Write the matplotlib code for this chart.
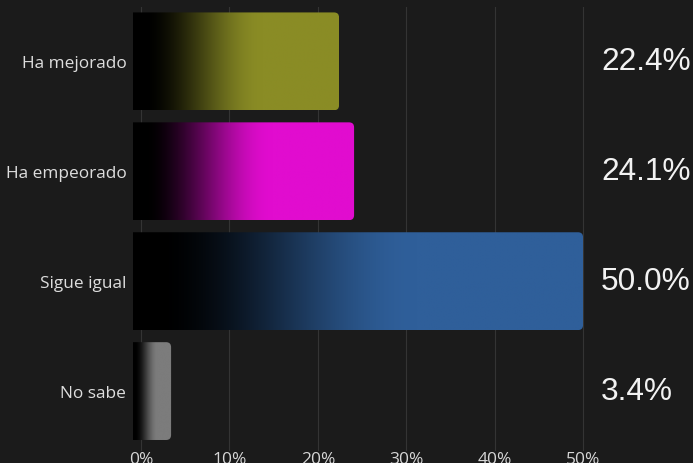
import matplotlib
matplotlib.use("Agg")
import matplotlib.pyplot as plt
import numpy as np
from matplotlib.colors import to_rgb
from matplotlib.patches import FancyBboxPatch
from matplotlib.transforms import blended_transform_factory

categories = ["Ha mejorado", "Ha empeorado", "Sigue igual", "No sabe"]
values = [22.4, 24.1, 50.0, 3.4]
colors = ["#8a8c25", "#e10ccf", "#2f5f9a", "#7c7c7c"]
ticks = [0, 10, 20, 30, 40, 50]
tick_labels = ["0%", "10%", "20%", "30%", "40%", "50%"]

BG = "#1b1b1b"
fig = plt.figure(figsize=(6.93, 4.64), dpi=100, facecolor=BG)
ax = fig.add_axes([0.1882, 0.0259, 0.6595, 0.957], facecolor=BG)
ax.set_xlim(-1.2, 50.5)
ax.set_ylim(3.545, -0.495)

# px per data unit, used to keep the corner radius round
px_x = 457.0 / 51.7
px_y = 444.0 / 4.04
r_px = 5.0
rx = r_px / px_x
aspect = (r_px / px_y) / rx

h = 0.89
start = -0.9
t = np.linspace(0, 1, 256)
for i, (v, c) in enumerate(zip(values, colors)):
    s = np.clip((t - 0.05) / 0.58, 0, 1)
    s = s * s * (3 - 2 * s)
    rgb = np.array(to_rgb(c))
    grad = (s[:, None] * rgb[None, :])[None, :, :]
    im = ax.imshow(grad, extent=(start, v, i + h / 2, i - h / 2),
                   aspect="auto", interpolation="bilinear", zorder=3)
    clip = FancyBboxPatch((start - 3, i - h / 2), v - start + 3, h,
                          boxstyle=f"round,pad=0,rounding_size={rx}",
                          mutation_aspect=aspect, transform=ax.transData)
    im.set_clip_path(clip)

ax.set_xlim(-1.2, 50.5)
ax.set_ylim(3.545, -0.495)

ax.set_xticks(ticks)
ax.set_xticklabels(tick_labels, family="Open Sans", fontsize=12.5,
                   color="#d6d6d6")
ax.set_yticks(range(len(categories)))
ax.set_yticklabels(categories, family="Open Sans", fontsize=12.4,
                   color="#dedede")
ax.tick_params(length=0, pad=3)
ax.tick_params(axis="x", pad=0)
ax.grid(axis="x", color="#343434", linewidth=0.8, zorder=0)
ax.set_axisbelow(True)
for sp in ax.spines.values():
    sp.set_visible(False)

tr = blended_transform_factory(fig.transFigure, ax.transData)
for i, v in enumerate(values):
    ax.text(601 / 693, i, f"{v:.1f}%", transform=tr, ha="left",
            va="center", family="Liberation Sans", fontsize=22.8,
            color="#f2f2f2")

fig.savefig("out.png", dpi=100, facecolor=BG)
